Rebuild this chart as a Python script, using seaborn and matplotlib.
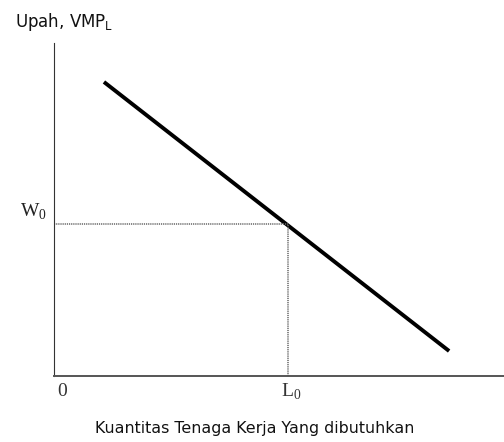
import matplotlib
matplotlib.use("Agg")
import matplotlib.pyplot as plt
import seaborn as sns
import pandas as pd

# Data (in axis units 0-100)
demand_x = [11.1, 87.8]
demand_y = [88.3, 7.5]
L0 = 52.0
W0 = 45.5
x_label = "Kuantitas Tenaga Kerja Yang dibutuhkan"
y_label = "Upah, VMP$_\\mathregular{L}$"

sns.set_style("white")
plt.rcParams['font.family'] = ['DejaVu Sans']

fig = plt.figure(figsize=(5.04, 4.42), dpi=100)
ax = fig.add_axes([54/504, (442-376)/442, 1 - 54/504, (376-43)/442])

df = pd.DataFrame({"x": demand_x, "y": demand_y})
sns.lineplot(data=df, x="x", y="y", ax=ax, color="black", linewidth=2.8,
             solid_capstyle="butt")

ax.plot([0, L0], [W0, W0], linestyle=(0, (0.8, 0.6)), color="#666666", linewidth=1.1)
ax.plot([L0, L0], [0, W0], linestyle=(0, (0.8, 0.6)), color="#666666", linewidth=1.1)

ax.set_xlim(0, 100)
ax.set_ylim(0, 100)
ax.set_xticks([])
ax.set_yticks([])
ax.set_xlabel("")
ax.set_ylabel("")
for s in ["top", "right"]:
    ax.spines[s].set_visible(False)
ax.spines["left"].set_color("#333333")
ax.spines["left"].set_linewidth(0.8)
ax.spines["bottom"].set_color("#555555")
ax.spines["bottom"].set_linewidth(1.4)

serif = ["Liberation Serif", "DejaVu Serif"]
fig.text(15/504, 1 - 22/442, y_label, fontsize=12, ha="left", va="center",
         color="#111111", family=["DejaVu Sans"])
fig.text(47/504, 1 - 212/442, "W$_\\mathregular{0}$", fontsize=14, ha="right", va="center",
         family=serif, color="#222222")
fig.text(62/504, 1 - 391/442, "0", fontsize=14, ha="center", va="center",
         family=serif, color="#333333")
fig.text(291/504, 1 - 392/442, "L$_\\mathregular{0}$", fontsize=14, ha="center", va="center",
         family=serif, color="#333333")
fig.text(255/504, 1 - 429/442, x_label, fontsize=11.4, ha="center", va="center",
         color="#111111", family=["DejaVu Sans"])

fig.savefig("out.png", dpi=100, facecolor="white")
